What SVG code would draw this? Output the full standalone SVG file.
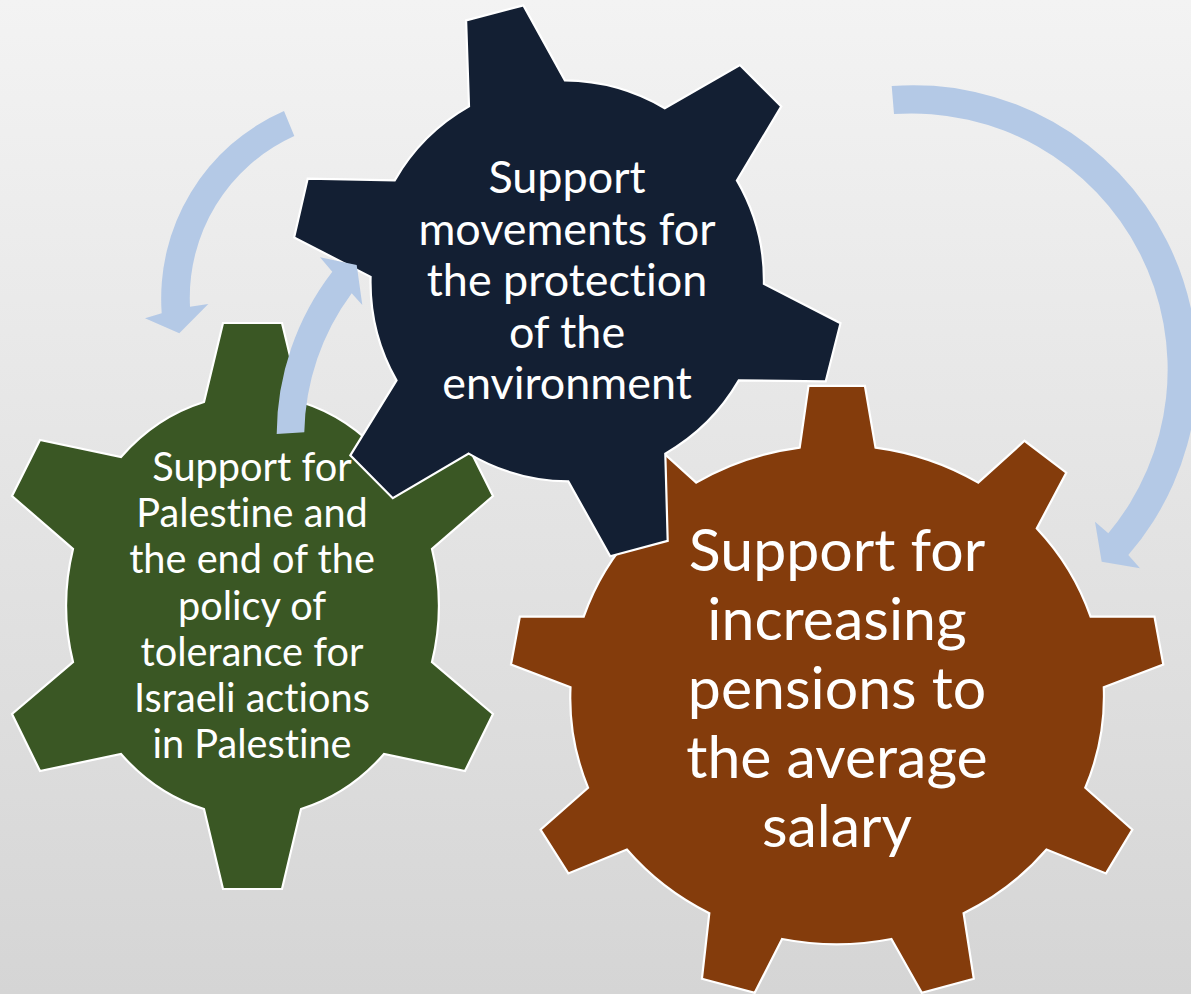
<svg xmlns="http://www.w3.org/2000/svg" width="1191" height="994" viewBox="0 0 1191 994">
  <defs>
    <linearGradient id="bg" x1="0" y1="0" x2="0" y2="1">
      <stop offset="0" stop-color="#F3F3F3"/>
      <stop offset="1" stop-color="#D5D5D5"/>
    </linearGradient>
  </defs>
  <style>
    .gear { stroke: #FFFFFF; stroke-width: 2.2; stroke-linejoin: miter; }
    .arrow { fill: #B4C9E6; stroke: none; }
    .label { font-family: Lato, "Open Sans", "Liberation Sans", sans-serif; fill: #FFFFFF; text-anchor: middle; font-variant-ligatures: none; font-feature-settings: "liga" 0, "clig" 0; }
    .t-green { font-size: 39.7px; }
    .t-navy { font-size: 44.9px; }
    .t-brown { font-size: 59px; }
  </style>
  <rect x="0" y="0" width="1191" height="994" fill="url(#bg)"/>

  <g id="gear-green">
    <path class="gear" fill="#3A5724" d="M 204,402 L 223,323 L 282,323 L 301,402 A 186 210.6 0 0 1 384,457 L 465,440 L 493,496 L 432,549 A 186 210.6 0 0 1 432,662 L 493,714 L 465,771 L 384,754 A 186 210.6 0 0 1 301,809 L 282,889 L 223,889 L 204,809 A 186 210.6 0 0 1 121,754 L 40,771 L 12,714 L 73,662 A 186 210.6 0 0 1 73,549 L 12,496 L 40,440 L 121,457 A 186 210.6 0 0 1 204,402 Z"/>
    <text class="label t-green" x="252" y="481.2">Support for</text>
    <text class="label t-green" x="252" y="527.3">Palestine and</text>
    <text class="label t-green" x="252" y="573.4">the end of the</text>
    <text class="label t-green" x="252" y="619.5">policy of</text>
    <text class="label t-green" x="252" y="665.6">tolerance for</text>
    <text class="label t-green" x="252" y="711.7">Israeli actions</text>
    <text class="label t-green" x="252" y="757.8">in Palestine</text>
  </g>

  <g id="gear-brown">
    <path class="gear" fill="#843C0C" d="M 799.7,447.6 L 808.5,385.9 L 864.9,385.9 L 875.5,447.6 A 267 249.5 0 0 1 978.2,482.6 L 1024.5,440.8 L 1066.3,472.7 L 1036.8,528.4 A 267 249.5 0 0 1 1090.6,616.7 L 1154.5,616.7 L 1163.3,664.5 L 1103.8,687.2 A 267 249.5 0 0 1 1085.3,787.8 L 1132.4,829.6 L 1106,873.4 L 1046.5,849.5 A 267 249.5 0 0 1 963.6,913.2 L 973.8,978.8 L 921.8,992.8 L 891.4,939 A 267 249.5 0 0 1 782.1,939 L 754.7,992.8 L 701.9,978.8 L 709.3,913.2 A 267 249.5 0 0 1 626.9,849.5 L 568.3,873.4 L 540.5,829.6 L 588.1,787.8 A 267 249.5 0 0 1 570.5,687.2 L 511,664.5 L 519.8,616.7 L 583.7,616.7 A 267 249.5 0 0 1 637.6,528.4 L 608.1,472.7 L 649.9,440.8 L 696.2,482.6 A 267 249.5 0 0 1 799.7,447.6 Z"/>
    <text class="label t-brown" x="837" y="571">Support for</text>
    <text class="label t-brown" x="837" y="640">increasing</text>
    <text class="label t-brown" x="837" y="709">pensions to</text>
    <text class="label t-brown" x="837" y="778">the average</text>
    <text class="label t-brown" x="837" y="847">salary</text>
  </g>

  <g id="gear-navy">
    <path class="gear" fill="#131F33" d="M 469,106.4 L 466.1,20.4 L 523.4,5.4 L 564.9,80.4 A 199 199 0 0 1 664.8,108.2 L 739.9,65 L 781.3,106.4 L 736.9,180.4 A 199 199 0 0 1 763.9,283.9 L 840.5,323.2 L 825.7,381.4 L 738.8,380.4 A 199 199 0 0 1 665.3,453.6 L 667.7,540.8 L 610.2,556.2 L 568.3,481.4 A 199 199 0 0 1 468.7,453.6 L 392.8,498.2 L 350.3,455.4 L 396.5,380.4 A 199 199 0 0 1 370.6,276.8 L 294.1,237.5 L 307.7,178.6 L 394.7,180.4 A 199 199 0 0 1 469,106.4 Z"/>
    <text class="label t-navy" x="567" y="193">Support</text>
    <text class="label t-navy" x="567" y="244.6">movements for</text>
    <text class="label t-navy" x="567" y="296.2">the protection</text>
    <text class="label t-navy" x="567" y="347.8">of the</text>
    <text class="label t-navy" x="567" y="399.4">environment</text>
  </g>

  <g id="connectors">
    <path id="arrow-top-left" class="arrow" d="M 284,111 A 204.7 204.7 0 0 0 161.7,313.3 L 145,318.3 L 179.3,333.3 L 208.3,304 L 190,306.7 A 177.5 177.5 0 0 1 294.3,136 Z"/>
    <path id="arrow-green-navy" class="arrow" d="M 276.7,434 A 268 268 0 0 1 332.3,271.7 L 320,257.3 L 356.7,265 L 362.3,305 L 351.7,293.3 A 241 241 0 0 0 304.3,432.3 Z"/>
    <path id="arrow-right" class="arrow" d="M 891.7,86 A 284 284 0 0 1 1128.3,555 L 1140,568.3 L 1101.7,561.7 L 1095,521.7 L 1108.3,533.3 A 256 256 0 0 0 894,114 Z"/>
  </g>
</svg>
